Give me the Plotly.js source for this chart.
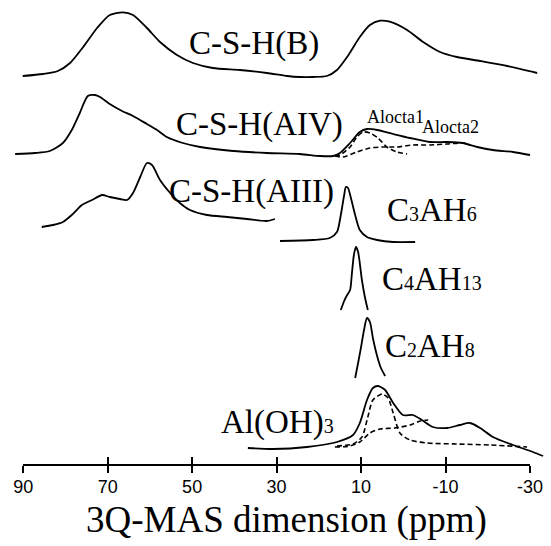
<!DOCTYPE html>
<html>
<head>
<meta charset="utf-8">
<script src="https://cdn.plot.ly/plotly-3.0.1.min.js"></script>
<style>
  html, body { margin: 0; padding: 0; background: #fff; }
  #plot { width: 551px; height: 546px; }
</style>
</head>
<body>
<div id="plot"></div>
<script>
// 27Al 3Q-MAS projections (isotropic dimension, ppm) of hydrated phases.
// Each spectrum: chemical shift (ppm) and relative intensity above its own baseline.

// C-S-H(B)
const ppmB = [90.1, 85.3, 81.8, 78.9, 75.8, 72.5, 69.5, 66.4, 64.0, 60.7, 57.6, 53.6, 49.8, 45.1, 38.7, 32.3, 27.5, 24.5, 21.4, 18.1, 15.7, 13.3, 10.3, 7.9, 5.5, 3.2, -0.9, -4.7, -8.7, -12.7, -18.2, -24.6, -31.7];
const intB = [1, 3, 6, 14, 30, 49, 62, 64.7, 62, 49, 35, 22, 14, 9, 7, 4, 1, 0, 0, 1, 7, 20, 40, 52, 56.3, 55.3, 47, 35, 25, 20, 16, 11, 4];

// C-S-H(AIV)
const ppmAIV = [91.9, 87.2, 83.7, 80.6, 78.5, 76.6, 74.7, 73.0, 71.8, 69.5, 66.6, 64.0, 60.7, 58.3, 56.0, 52.2, 48.1, 40.3, 32.3, 24.5, 19.7, 16.6, 15.0, 12.6, 10.3, 8.6, 6.2, 2.4, -1.6, -6.3, -10.4, -14.1, -17.5, -21.2, -26.0, -30.0];
const intAIV = [1, 2, 4, 12, 25, 42, 59, 60, 58, 51, 44, 39, 31, 25, 18, 12, 8, 4, 2, 1, -1, -1, 2, 12, 23, 26, 25, 21, 17, 13, 13, 12, 8, 5, 3, 0];
// deconvoluted octahedral components of C-S-H(AIV)
const ppmOcta1 = [16.2, 15.0, 12.6, 11.0, 9.5, 7.9, 6.0, 3.9, 1.5, -0.9];
const intOcta1 = [-1, 0, 8, 18, 23, 22, 17, 8, 3, 1];
const ppmOcta2 = [16.2, 14.3, 11.0, 7.9, 4.8, 1.5, -2.3, -6.3, -10.4, -14.1, -15.8];
const intOcta2 = [-1, -2, 3, 7, 8, 8, 10, 10, 11, 12, 10];

// C-S-H(AIII)
const ppmAIII = [85.6, 82.9, 80.6, 78.5, 76.1, 73.7, 71.3, 69.5, 67.1, 65.4, 64.0, 62.3, 60.7, 59.5, 57.6, 55.2, 52.9, 50.5, 46.5, 41.7, 37.0, 32.3, 30.4];
const intAIII = [0, 2, 5, 12, 22, 27, 32, 30, 28, 27, 34, 50, 64, 62, 47, 34, 24, 17, 12, 10, 8, 6, 8];

// C3AH6
const ppmC3AH6 = [29.2, 21.4, 17.4, 15.7, 14.8, 14.0, 13.6, 13.1, 12.4, 11.4, 10.3, 8.6, 6.2, 2.4, -2.8];
const intC3AH6 = [1, 2, 4, 10, 27, 47, 55, 54, 44, 27, 12, 5, 2, 0, 0];

// C4AH13
const ppmC4AH13 = [14.8, 14.0, 13.3, 12.6, 12.2, 11.7, 11.2, 10.7, 9.8, 9.1, 8.4];
const intC4AH13 = [0, 9, 15, 20, 35, 55, 63, 58, 30, 13, 0];

// C2AH8
const ppmC2AH8 = [11.4, 10.7, 10.0, 9.3, 8.6, 7.9, 7.2, 6.2, 5.3, 4.3];
const intC2AH8 = [0, 15, 31, 48, 60, 56, 40, 22, 10, 2];

// Al(OH)3 and its two components
const ppmAlOH3 = [36.8, 30.9, 22.8, 15.7, 11.9, 10.3, 8.6, 7.2, 6.0, 4.3, 2.4, 0.1, -2.3, -4.4, -7.0, -10.4, -13.4, -15.8, -18.2, -21.2, -26.0, -30.7, -33.1];
const intAlOH3 = [2, 1, 3, 8, 15, 27, 50, 62, 64, 60, 47, 35, 35, 30, 23, 22, 25, 27, 22, 13, 5, -2, -6];
const ppmGib1 = [15.7, 11.9, 9.8, 8.4, 7.2, 5.0, 3.6, 2.4, 0.8, -1.6, -5.6, -12.7, -20.5, -29.3];
const intGib1 = [4, 6, 13, 33, 50, 56, 52, 37, 17, 10, 7, 6, 5, 3];
const ppmGib2 = [16.2, 12.6, 10.3, 7.9, 5.5, 2.0, -1.6, -4.0, -5.9];
const intGib2 = [3, 4, 8, 17, 21, 22, 25, 29, 30];

// axis ticks
const tickVals = [90, 70, 50, 30, 10, -10, -30];
const tickText = ['90', '70', '50', '30', '10', '-10', '-30'];

// vertical stacking of the spectra (layout only)
const stackOffset = { B: 387, AIV: 309, AIII: 237, C3AH6: 222, C4AH13: 154, C2AH8: 86, AlOH3: 14 };

const shift = (arr, off) => arr.map(v => v + off);

function spectrum(x, y, off, dashed) {
  return {
    type: 'scatter', mode: 'lines', x: x, y: shift(y, off),
    xaxis: 'x', yaxis: 'y', hoverinfo: 'skip', showlegend: false,
    line: { color: '#000', width: dashed ? 1.6 : 1.8, shape: 'spline', smoothing: 0.7,
            dash: dashed ? '5px,3px' : 'solid' }
  };
}

const traces = [
  spectrum(ppmB, intB, stackOffset.B, false),
  spectrum(ppmAIV, intAIV, stackOffset.AIV, false),
  spectrum(ppmOcta1, intOcta1, stackOffset.AIV, true),
  spectrum(ppmOcta2, intOcta2, stackOffset.AIV, true),
  spectrum(ppmAIII, intAIII, stackOffset.AIII, false),
  spectrum(ppmC3AH6, intC3AH6, stackOffset.C3AH6, false),
  spectrum(ppmC4AH13, intC4AH13, stackOffset.C4AH13, false),
  spectrum(ppmC2AH8, intC2AH8, stackOffset.C2AH8, false),
  spectrum(ppmAlOH3, intAlOH3, stackOffset.AlOH3, false),
  spectrum(ppmGib1, intGib1, stackOffset.AlOH3, true),
  spectrum(ppmGib2, intGib2, stackOffset.AlOH3, true)
];

const serif = 'Liberation Serif, Times New Roman, serif';
const sub = t => '<span style="font-size:20px">' + t + '</span>';

function label(text, x, y, size) {
  return { text: text, x: x, y: y, xref: 'x', yref: 'y', xanchor: 'left', yanchor: 'middle',
           showarrow: false, font: { family: serif, size: size, color: '#000' } };
}

const annotations = [
  label('C-S-H(B)', 51.2, 421, 33),
  label('C-S-H(AIV)', 54.2, 340, 33),
  label('C-S-H(AIII)', 55.9, 273, 33),
  label('C' + sub('3') + 'AH' + sub('6'), 4.3, 254, 33),
  label('C' + sub('4') + 'AH' + sub('13'), 5.5, 185, 33),
  label('C' + sub('2') + 'AH' + sub('8'), 4.8, 118, 33),
  label('Al(OH)' + sub('3'), 43.7, 42, 33),
  label('Alocta1', 9.0, 347, 18),
  label('Alocta2', -4.0, 337, 18),
  { text: '3Q-MAS dimension (ppm)', xref: 'paper', yref: 'paper', x: 0.52, y: -0.121,
    xanchor: 'center', yanchor: 'middle', showarrow: false,
    font: { family: serif, size: 37, color: '#000' } }
];

const layout = {
  width: 551, height: 546, autosize: false,
  margin: { l: 0, r: 0, t: 0, b: 82, pad: 0 },
  paper_bgcolor: '#fff', plot_bgcolor: 'rgba(0,0,0,0)',
  showlegend: false,
  // data axis spanning the full width
  xaxis: { range: [95.49, -34.97], visible: false, fixedrange: true },
  yaxis: { range: [0, 464], visible: false, fixedrange: true },
  // drawn scale: 90 ... -30 ppm, ticks below the line
  xaxis2: { domain: [23.2 / 551, 530 / 551], range: [90, -30], anchor: 'y',
            showline: true, linecolor: '#000', linewidth: 2,
            ticks: 'outside', ticklen: 7, tickwidth: 2, tickcolor: '#000',
            ticklabelstandoff: -2,
            tickmode: 'array', tickvals: tickVals, ticktext: tickText,
            tickfont: { family: 'Liberation Sans, Arial, sans-serif', size: 18, color: '#000' },
            showgrid: false, zeroline: false, fixedrange: true },
  // same scale, ticks above the line
  xaxis3: { overlaying: 'x2', range: [90, -30], anchor: 'y',
            ticks: 'inside', ticklen: 7, tickwidth: 2, tickcolor: '#000',
            tickmode: 'array', tickvals: tickVals, showticklabels: false,
            showline: false, showgrid: false, zeroline: false, fixedrange: true },
  annotations: annotations
};

// empty traces keep the two scale axes attached to the y axis
traces.push({ type: 'scatter', x: [], y: [], xaxis: 'x2', yaxis: 'y', showlegend: false, hoverinfo: 'skip' });
traces.push({ type: 'scatter', x: [], y: [], xaxis: 'x3', yaxis: 'y', showlegend: false, hoverinfo: 'skip' });

Plotly.newPlot('plot', traces, layout, { displayModeBar: false, staticPlot: true });
</script>
</body>
</html>
